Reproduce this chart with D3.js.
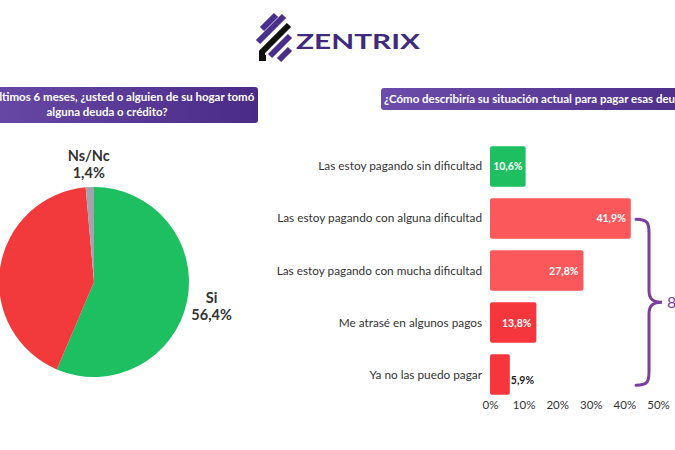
<!DOCTYPE html>
<html>
<head>
<meta charset="utf-8">
<script src="https://cdn.jsdelivr.net/npm/d3@7"></script>
<style>
  body { margin: 0; background: #fff; }
  svg { display: block; font-family: Lato, "Open Sans", sans-serif; }
</style>
</head>
<body>
<div id="chart"></div>
<script>
// chart data
const pieLabels = ["Si", "No", "Ns/Nc"];
const pieValues = [56.4, 42.2, 1.4];
const pieColors = ["#1dbf61", "#f23a3c", "#a3a3ad"];

const barCategories = [
  "Las estoy pagando sin dificultad",
  "Las estoy pagando con alguna dificultad",
  "Las estoy pagando con mucha dificultad",
  "Me atrasé en algunos pagos",
  "Ya no las puedo pagar"
];
const barValues = [10.6, 41.9, 27.8, 13.8, 5.9];
const barColors = ["#1dbf61", "#fa585b", "#fa585b", "#f5363c", "#f5363c"];
const xTicks = [0, 10, 20, 30, 40, 50];
const braceLabel = "89,4%";

const pieTitle = ["En los últimos 6 meses, ¿usted o alguien de su hogar tomó", "alguna deuda o crédito?"];
const barTitle = "¿Cómo describiría su situación actual para pagar esas deudas?";

const width = 675;
const height = 450;
const fmt = v => String(v).replace(".", ",") + "%";

const svg = d3.select("#chart")
  .append("svg")
  .attr("width", width)
  .attr("height", height);

// purple gradient for title boxes
const defs = svg.append("defs");
const grad = defs.append("linearGradient").attr("id", "titleGrad");
grad.append("stop").attr("offset", "0%").attr("stop-color", "#6b4caa");
grad.append("stop").attr("offset", "100%").attr("stop-color", "#4a2b86");

/* logo */
const logo = svg.append("g")
  .attr("fill", "none")
  .attr("stroke-width", 6);
const stripes = [
  {c: "#4b2f8c", p: [[262, 29], [276, 15]]},
  {c: "#4b2f8c", p: [[258, 42], [284, 16]]},
  {c: "#111111", p: [[289, 25], [262, 52], [262, 58], [266, 58]]},
  {c: "#4b2f8c", p: [[270, 56], [290, 36]]},
  {c: "#4b2f8c", p: [[279, 60], [290, 49]]}
];
logo.selectAll("path")
  .data(stripes)
  .enter()
  .append("path")
    .attr("d", d => d3.line()(d.p))
    .attr("stroke", d => d.c)
    .attr("stroke-linejoin", "miter");
logo.append("text")
  .attr("x", 296)
  .attr("y", 48.5)
  .attr("font-size", 21)
  .attr("font-weight", 700)
  .attr("textLength", 124)
  .attr("lengthAdjust", "spacingAndGlyphs")
  .attr("stroke", "none")
  .attr("fill", "#3f2a7e")
  .text("ZENTRIX");

/* titles */
svg.append("rect")
  .attr("x", -44).attr("y", 87)
  .attr("width", 302).attr("height", 36)
  .attr("rx", 3)
  .attr("fill", "url(#titleGrad)");
svg.append("g").selectAll("text")
  .data(pieTitle)
  .enter()
  .append("text")
    .attr("x", 107)
    .attr("y", (d, i) => 101 + i * 15)
    .attr("text-anchor", "middle")
    .attr("font-size", 11.5)
    .attr("font-weight", 700)
    .attr("fill", "#fff")
    .text(d => d);

svg.append("rect")
  .attr("x", 381).attr("y", 88)
  .attr("width", 340).attr("height", 22)
  .attr("rx", 3)
  .attr("fill", "url(#titleGrad)");
svg.append("text")
  .attr("x", 384)
  .attr("y", 103)
  .attr("font-size", 11.5)
  .attr("font-weight", 700)
  .attr("fill", "#fff")
  .text(barTitle);

/* pie */
const pieCx = 94, pieCy = 282, radius = 95;
const pieData = d3.pie().sort(null)(pieValues);
const arc = d3.arc().innerRadius(0).outerRadius(radius);
const labelArc = d3.arc().innerRadius(120).outerRadius(120);

const pieG = svg.append("g").attr("transform", `translate(${pieCx},${pieCy})`);
pieG.selectAll("path")
  .data(pieData)
  .enter()
  .append("path")
    .attr("d", arc)
    .attr("fill", (d, i) => pieColors[i]);

// labels for visible slices (the "No" label sits off-canvas in the reference)
const shownLabels = pieData.filter((d, i) => pieLabels[i] !== "No");
const lab = pieG.selectAll(".plabel")
  .data(shownLabels)
  .enter()
  .append("g")
    .attr("class", "plabel")
    .attr("transform", d => {
      const c = labelArc.centroid(d);
      return `translate(${c[0]},${c[1]})`;
    });
lab.append("text")
  .attr("text-anchor", "middle")
  .attr("y", d => d.index === 0 ? -3 : -1)
  .attr("font-size", 14.5)
  .attr("font-weight", 700)
  .attr("fill", "#333")
  .text(d => pieLabels[d.index]);
lab.append("text")
  .attr("text-anchor", "middle")
  .attr("y", d => d.index === 0 ? 14 : 16)
  .attr("font-size", 14.5)
  .attr("font-weight", 700)
  .attr("fill", "#333")
  .text(d => fmt(pieValues[d.index]));

/* bars */
const xScale = d3.scaleLinear()
  .domain([0, 50])
  .range([490, 658]);
const yScale = d3.scaleBand()
  .domain(d3.range(barCategories.length))
  .range([141, 400])
  .paddingInner(0.22)
  .paddingOuter(0.1);

svg.selectAll(".bar")
  .data(barValues)
  .enter()
  .append("rect")
    .attr("class", "bar")
    .attr("x", xScale(0))
    .attr("y", (d, i) => yScale(i))
    .attr("width", d => xScale(d) - xScale(0))
    .attr("height", yScale.bandwidth())
    .attr("rx", 2)
    .attr("fill", (d, i) => barColors[i]);

// category labels
svg.selectAll(".cat")
  .data(barCategories)
  .enter()
  .append("text")
    .attr("class", "cat")
    .attr("x", 482)
    .attr("y", (d, i) => yScale(i) + yScale.bandwidth() / 2 + 4)
    .attr("text-anchor", "end")
    .attr("font-size", 11.8)
    .attr("fill", "#333")
    .text(d => d);

// value labels
svg.selectAll(".val")
  .data(barValues)
  .enter()
  .append("text")
    .attr("class", "val")
    .attr("x", (d, i) => {
      if (i === 0) return (xScale(0) + xScale(d)) / 2;
      if (d < 8) return xScale(d) + 1;
      return xScale(d) - 5;
    })
    .attr("y", (d, i) => yScale(i) + yScale.bandwidth() / 2 + (d < 8 ? 9 : 4))
    .attr("text-anchor", (d, i) => i === 0 ? "middle" : (d < 8 ? "start" : "end"))
    .attr("font-size", 10.5)
    .attr("font-weight", 700)
    .attr("fill", d => d < 8 ? "#222" : "#fff")
    .text(d => fmt(d));

// x axis (labels only)
const xAxis = svg.append("g")
  .attr("transform", "translate(0,400)")
  .call(d3.axisBottom(xScale).tickValues(xTicks).tickFormat(d => d + "%").tickSize(0).tickPadding(1));
xAxis.select(".domain").remove();
xAxis.selectAll("text")
  .attr("font-family", "Lato, sans-serif")
  .attr("font-size", 11.5)
  .attr("fill", "#333");

/* brace around the difficulty bars */
const by0 = yScale(1) + 21, by1 = yScale(4) + 31;
const bm = (by0 + by1) / 2;
const bx = 636;
const brace = d3.path();
brace.moveTo(bx, by0);
brace.bezierCurveTo(bx + 12, by0, bx + 13, by0 + 4, bx + 13, by0 + 14);
brace.lineTo(bx + 13, bm - 12);
brace.bezierCurveTo(bx + 13, bm - 3, bx + 17, bm, bx + 26, bm);
brace.bezierCurveTo(bx + 17, bm, bx + 13, bm + 3, bx + 13, bm + 12);
brace.lineTo(bx + 13, by1 - 14);
brace.bezierCurveTo(bx + 13, by1 - 4, bx + 12, by1, bx, by1);
svg.append("path")
  .attr("d", brace.toString())
  .attr("fill", "none")
  .attr("stroke", "#7a3f9e")
  .attr("stroke-width", 3)
  .attr("stroke-linecap", "round");
svg.append("text")
  .attr("x", 667)
  .attr("y", bm + 6)
  .attr("font-size", 16)
  .attr("fill", "#7a3f9e")
  .text(braceLabel);
</script>
</body>
</html>
